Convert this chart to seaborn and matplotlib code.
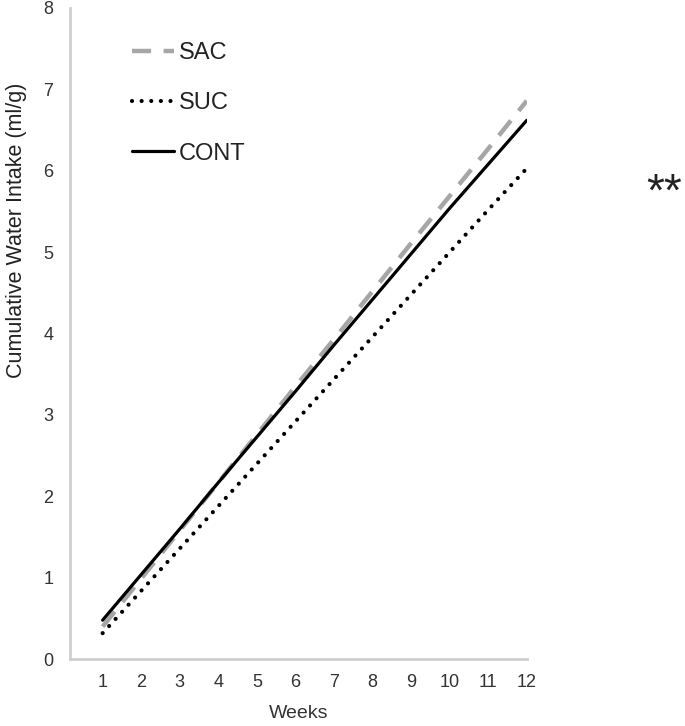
import numpy as np
import pandas as pd
import matplotlib
matplotlib.use("Agg")
import matplotlib.pyplot as plt
import matplotlib.transforms as mtransforms
import seaborn as sns

# ==== data ====
weeks = [1, 2, 3, 4, 5, 6, 7, 8, 9, 10, 11, 12]
sac = [0.40, 0.99, 1.58, 2.17, 2.76, 3.35, 3.93, 4.52, 5.11, 5.69, 6.27, 6.86]
suc = [0.32, 0.84, 1.36, 1.88, 2.40, 2.92, 3.44, 3.96, 4.48, 5.00, 5.52, 6.03]
cont = [0.48, 1.04, 1.60, 2.17, 2.73, 3.29, 3.86, 4.42, 4.98, 5.54, 6.08, 6.62]
groups = ["SAC", "SUC", "CONT"]

sns.set_style("white")
plt.rcParams['font.family'] = ['Liberation Sans', 'DejaVu Sans']

df = pd.DataFrame({"Weeks": weeks * 3,
                   "value": sac + suc + cont,
                   "group": np.repeat(groups, len(weeks))})

fig = plt.figure(figsize=(6.85, 7.26), dpi=100)
ax = fig.add_axes([0.102, 0.092, 0.667, 0.897])

styles = {
    "SAC": dict(color="#a6a6a6", lw=3.2, dashes=(4.3, 2.8), dash_capstyle="butt"),
    "SUC": dict(color="black", lw=3.0, dashes=(0.01, 2.3), dash_capstyle="round"),
    "CONT": dict(color="black", lw=2.3, ls="-"),
}
for g in groups:
    sub = df[df["group"] == g]
    st = styles[g]
    sns.lineplot(data=sub, x="Weeks", y="value", ax=ax, label=g,
                 color=st["color"], lw=st["lw"])
    line = ax.lines[-1]
    if "dashes" in st:
        line.set_dashes(st["dashes"])
        line.set_dash_capstyle(st["dash_capstyle"])

ax.set_xlim(0.15, 12)
ax.set_ylim(0, 8)
ax.set_xticks(weeks)
ax.set_yticks(range(0, 9))
ax.tick_params(axis="both", colors="#bdbdbd", labelcolor="#333333",
               labelsize=13, length=4, width=1, direction="out")
ax.tick_params(axis="x", pad=7)
ax.tick_params(axis="y", pad=8)
for s in ["top", "right"]:
    ax.spines[s].set_visible(False)
for s in ["left", "bottom"]:
    ax.spines[s].set_color("#cfcfcf")
    ax.spines[s].set_linewidth(2)

ax.set_xlabel("Weeks", fontsize=14, color="#333333", labelpad=10)
ax.set_ylabel("Cumulative Water Intake (ml/g)", fontsize=15.5, color="#222222")
ax.yaxis.set_label_coords(-0.094, 0.659)

leg = ax.legend(loc="upper left", bbox_to_anchor=(0.135, 0.948), frameon=False,
                fontsize=17, handlelength=1.8, handletextpad=0.2, labelspacing=1.2,
                borderpad=0, borderaxespad=0)
for t in leg.get_texts():
    t.set_color("#222222")

# significance mark next to the SUC line end
trans = mtransforms.blended_transform_factory(ax.transAxes, ax.transData)
ax.text(1.262, 5.57, "**", transform=trans, fontsize=33, color="#222222",
        ha="left", va="baseline", clip_on=False)

fig.savefig("out.png", dpi=100, facecolor="white")
